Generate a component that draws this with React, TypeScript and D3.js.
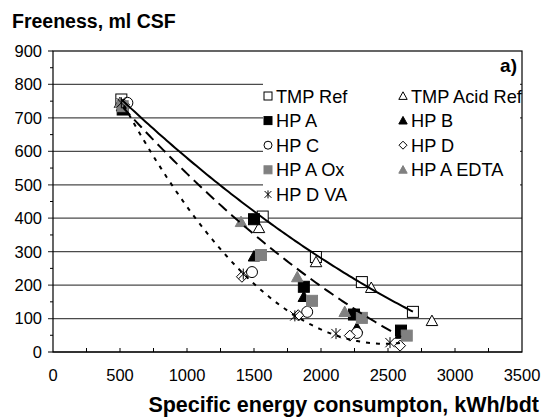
import React from "react";
import * as d3 from "d3";

// Freeness vs specific energy consumption for reference TMP and HP-treated pulps
const tmpRefX = [510, 1565, 1962, 2305, 2686];
const tmpRefY = [755, 405, 284, 209, 120];
const tmpAcidX = [500, 1537, 1963, 2375, 2828];
const tmpAcidY = [745, 371, 269, 192, 93];
const hpAX = [520, 1500, 1872, 2246, 2597];
const hpAY = [725, 397, 195, 112, 64];
const hpBX = [515, 1500, 1872, 2268, 2597];
const hpBY = [735, 286, 165, 72, 55];
const hpCX = [555, 1485, 1897, 2268];
const hpCY = [745, 239, 120, 57];
const hpDX = [530, 1410, 1830, 2215, 2590];
const hpDY = [740, 225, 110, 49, 19];
const hpAOxX = [520, 1552, 1933, 2305, 2640];
const hpAOxY = [735, 290, 153, 102, 49];
const hpAEdtaX = [505, 1403, 1823, 2177];
const hpAEdtaY = [745, 389, 224, 120];
const hpDVaX = [510, 1420, 1805, 2112, 2515];
const hpDVaY = [745, 233, 108, 55, 28];

const xTicks = [0, 500, 1000, 1500, 2000, 2500, 3000, 3500];
const yTicks = [0, 100, 200, 300, 400, 500, 600, 700, 800, 900];

type Shape = "square" | "triangle" | "circle" | "diamond" | "star";
interface Series {
  name: string;
  xs: number[];
  ys: number[];
  shape: Shape;
  fill: string;
}

const GRAY = "#808080";
const series: Series[] = [
  { name: "TMP Ref", xs: tmpRefX, ys: tmpRefY, shape: "square", fill: "white" },
  { name: "TMP Acid Ref", xs: tmpAcidX, ys: tmpAcidY, shape: "triangle", fill: "white" },
  { name: "HP A", xs: hpAX, ys: hpAY, shape: "square", fill: "black" },
  { name: "HP B", xs: hpBX, ys: hpBY, shape: "triangle", fill: "black" },
  { name: "HP C", xs: hpCX, ys: hpCY, shape: "circle", fill: "white" },
  { name: "HP D", xs: hpDX, ys: hpDY, shape: "diamond", fill: "white" },
  { name: "HP A Ox", xs: hpAOxX, ys: hpAOxY, shape: "square", fill: GRAY },
  { name: "HP A EDTA", xs: hpAEdtaX, ys: hpAEdtaY, shape: "triangle", fill: GRAY },
  { name: "HP D VA", xs: hpDVaX, ys: hpDVaY, shape: "star", fill: "none" },
];

// Quadratic least-squares trend through a set of points
function quadFit(xs: number[], ys: number[]) {
  const n = xs.length;
  let s1 = 0, s2 = 0, s3 = 0, s4 = 0, t0 = 0, t1 = 0, t2 = 0;
  for (let i = 0; i < n; i++) {
    const x = xs[i] / 1000, y = ys[i];
    s1 += x; s2 += x * x; s3 += x * x * x; s4 += x * x * x * x;
    t0 += y; t1 += x * y; t2 += x * x * y;
  }
  const A = [
    [n, s1, s2, t0],
    [s1, s2, s3, t1],
    [s2, s3, s4, t2],
  ];
  for (let c = 0; c < 3; c++) {
    for (let r = c + 1; r < 3; r++) {
      const f = A[r][c] / A[c][c];
      for (let k = c; k < 4; k++) A[r][k] -= f * A[c][k];
    }
  }
  const b = [0, 0, 0];
  for (let r = 2; r >= 0; r--) {
    let s = A[r][3];
    for (let k = r + 1; k < 3; k++) s -= A[r][k] * b[k];
    b[r] = s / A[r][r];
  }
  return (x: number) => b[0] + b[1] * (x / 1000) + b[2] * (x / 1000) ** 2;
}

// Trendlines: TMP Ref (solid), HP A (dashed), HP D (dotted)
const trends = [
  { xs: tmpRefX, ys: tmpRefY, dash: "none" },
  { xs: hpAX, ys: hpAY, dash: "11,6" },
  { xs: hpDX, ys: hpDY, dash: "4,6" },
];

const W = 542, H = 418;
const M = { left: 53, top: 51, right: 20, bottom: 66 };
const FONT = "'Liberation Sans', Arial, sans-serif";

function Marker({ shape, fill, x, y, s }: { shape: Shape; fill: string; x: number; y: number; s: number }) {
  const h = s / 2;
  const stroke = fill === GRAY ? GRAY : "black";
  switch (shape) {
    case "square":
      return <rect x={x - h} y={y - h} width={s} height={s} fill={fill} stroke={stroke} strokeWidth={1} />;
    case "triangle":
      return (
        <path
          d={`M${x},${y - h * 1.05}L${x + h * 1.05},${y + h * 0.85}L${x - h * 1.05},${y + h * 0.85}Z`}
          fill={fill}
          stroke={stroke}
          strokeWidth={1}
        />
      );
    case "circle":
      return <circle cx={x} cy={y} r={h} fill={fill} stroke="black" strokeWidth={1} />;
    case "diamond":
      return (
        <path d={`M${x},${y - h}L${x + h},${y}L${x},${y + h}L${x - h},${y}Z`} fill={fill} stroke="black" strokeWidth={1} />
      );
    case "star": {
      const k = h * 0.85;
      return (
        <path
          d={`M${x - k},${y - k}L${x + k},${y + k}M${x - k},${y + k}L${x + k},${y - k}M${x},${y - h}L${x},${y + h}`}
          stroke="black"
          strokeWidth={1}
          fill="none"
        />
      );
    }
  }
}

export default function App() {
  const iw = W - M.left - M.right;
  const ih = H - M.top - M.bottom;
  const x = d3.scaleLinear().domain([0, 3500]).range([M.left, M.left + iw]);
  const y = d3.scaleLinear().domain([0, 900]).range([M.top + ih, M.top]);

  const line = d3.line<number>().x((d) => x(d));

  const legendX0 = 263;
  const legendY0 = 96;
  const rowH = 24.6;
  const colW = 135;

  return (
    <svg width={W} height={H} style={{ display: "block", position: "absolute", left: 0, top: 0 }} fontFamily={FONT}>
      <rect x={0} y={0} width={W} height={H} fill="white" />
      {/* gridlines */}
      {yTicks
        .filter((t) => t > 0 && t < 900)
        .map((t) => (
          <line key={t} x1={M.left - 5} x2={M.left + iw} y1={y(t)} y2={y(t)} stroke="#4a4a4a" strokeWidth={1.3} />
        ))}
      {/* minor y ticks */}
      {d3.range(50, 900, 100).map((t) => (
        <line key={t} x1={M.left - 3} x2={M.left} y1={y(t)} y2={y(t)} stroke="black" strokeWidth={1} />
      ))}
      {/* x ticks */}
      {d3.range(250, 3500, 250).map((t) => (
        <line key={t} x1={x(t)} x2={x(t)} y1={y(0)} y2={y(0) - 4} stroke="black" strokeWidth={1} />
      ))}
      {/* frame */}
      <line x1={M.left - 5} x2={M.left} y1={y(900)} y2={y(900)} stroke="black" />
      <rect x={M.left} y={M.top} width={iw} height={ih} fill="none" stroke="black" strokeWidth={1.2} />
      <line x1={M.left - 5} x2={M.left + iw} y1={y(0)} y2={y(0)} stroke="black" strokeWidth={1.2} />

      {/* legend background */}
      <rect x={legendX0} y={78} width={257} height={131} fill="white" />

      {/* markers */}
      {series.map((s) =>
        s.xs.map((xv, i) => (
          <Marker key={s.name + i} shape={s.shape} fill={s.fill} x={x(xv)} y={y(s.ys[i])} s={11} />
        ))
      )}

      {/* trendlines */}
      {trends.map((t, i) => {
        const f = quadFit(t.xs, t.ys);
        const [lo, hi] = d3.extent(t.xs) as [number, number];
        const pts = d3.range(lo, hi, 20).concat([hi]);
        return (
          <path
            key={i}
            d={line.y((d) => y(f(d)))(pts) || ""}
            fill="none"
            stroke="black"
            strokeWidth={2}
            strokeDasharray={t.dash}
          />
        );
      })}

      {/* legend */}
      {series.map((s, i) => {
        const col = i % 2;
        const row = Math.floor(i / 2);
        const lx = legendX0 + 5 + col * colW;
        const ly = legendY0 + row * rowH;
        return (
          <g key={s.name}>
            <Marker shape={s.shape} fill={s.fill} x={lx} y={ly} s={8} />
            <text x={lx + 8} y={ly} dy="0.36em" fontSize={18.2}>
              {s.name}
            </text>
          </g>
        );
      })}

      {/* tick labels */}
      {yTicks.map((t) => (
        <text key={t} x={42} y={y(t)} dy="0.36em" textAnchor="end" fontSize={16.5}>
          {t}
        </text>
      ))}
      {xTicks.map((t) => (
        <text key={t} x={x(t)} y={381} textAnchor="middle" fontSize={16.5}>
          {t}
        </text>
      ))}

      <text x={12} y={28} fontSize={19.5} fontWeight="bold">
        Freeness, ml CSF
      </text>
      <text x={539} y={412} textAnchor="end" fontSize={21.5} fontWeight="bold">
        Specific energy consumpton, kWh/bdt
      </text>
      <text x={517} y={72} textAnchor="end" fontSize={19} fontWeight="bold">
        a)
      </text>
    </svg>
  );
}
